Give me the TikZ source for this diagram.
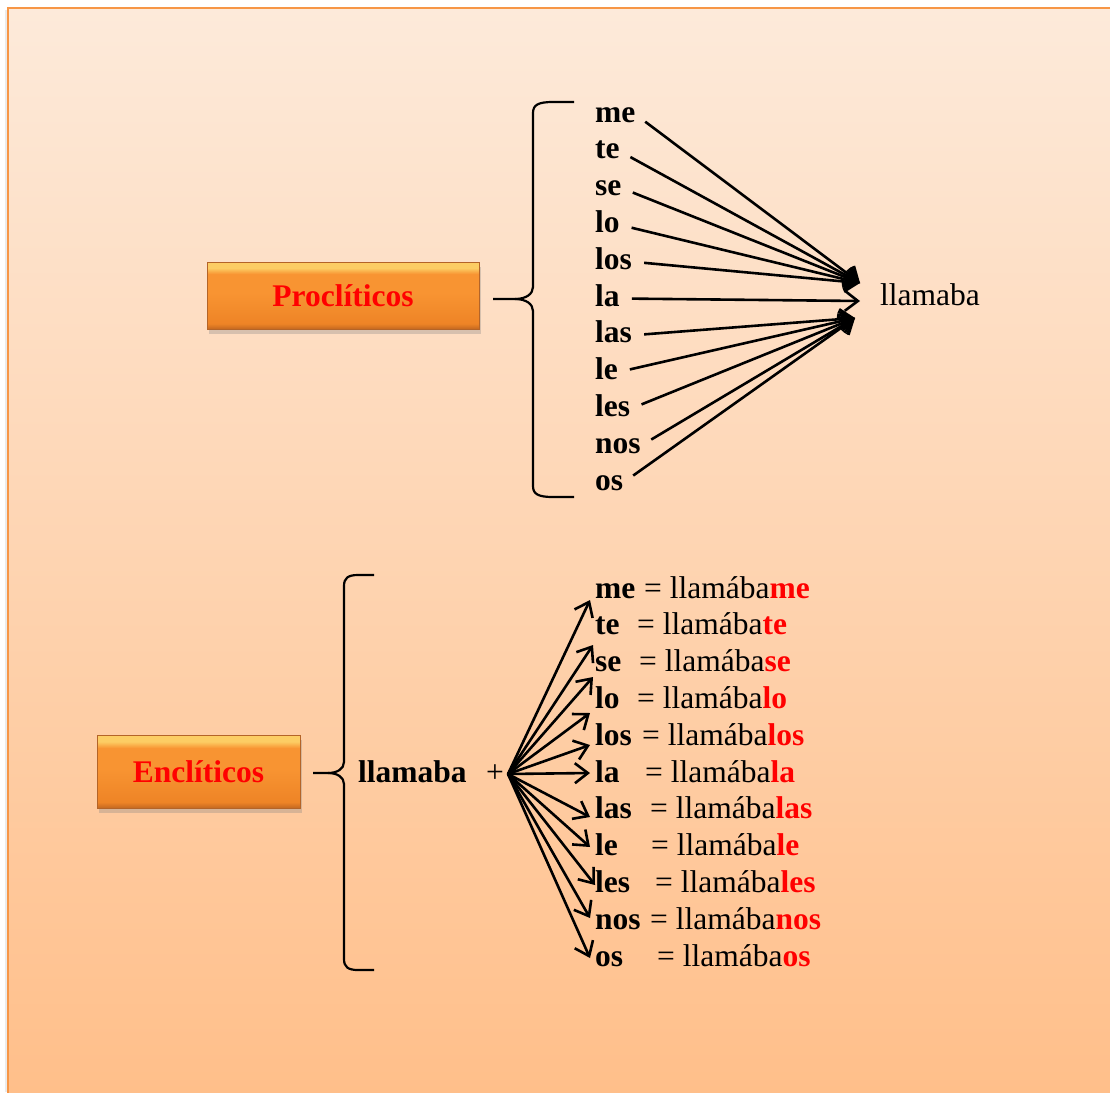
\documentclass[tikz,border=0pt]{standalone}
\usepackage{fontspec}
\setmainfont{Liberation Serif}
\usetikzlibrary{arrows.meta,shadows}
\definecolor{bgtop}{RGB}{253,234,218}
\definecolor{bgbot}{RGB}{255,191,138}
\definecolor{framecol}{RGB}{247,150,70}
\definecolor{boxtop}{RGB}{252,205,100}
\definecolor{boxmid}{RGB}{248,148,50}
\definecolor{boxmidb}{RGB}{238,132,38}
\definecolor{boxbot}{RGB}{196,104,32}
\definecolor{boxedge}{RGB}{180,100,40}
\definecolor{redtxt}{RGB}{255,0,0}
\pgfdeclareverticalshading{boxshade}{100bp}{color(0bp)=(boxbot); color(25bp)=(boxbot); color(29bp)=(boxmidb); color(52bp)=(boxmid); color(66bp)=(boxmid); color(70.5bp)=(boxtop); color(75bp)=(boxtop); color(100bp)=(boxtop)}
\begin{document}
\begin{tikzpicture}[x=1pt,y=-1pt,
  font=\fontsize{31.5}{37}\selectfont,
  titlebox/.style={draw=boxedge, line width=1, shading=boxshade,
     text=redtxt, font=\fontsize{31.5}{37}\selectfont\bfseries, inner sep=0,
     drop shadow={opacity=0.3, shadow xshift=2pt, shadow yshift=-5pt}},
  word/.style={anchor=base west, inner sep=0, text height=22pt, text depth=7pt},
  arr/.style={line width=2.6, -{Straight Barb[length=13pt,width=20pt,line width=2.6]}},
  brace/.style={line width=2.2, line join=round}]
\useasboundingbox (0,0) rectangle (1110,1092);
\fill[white] (0,0) rectangle (1110,1092);
\fill[black!8] (5,10) rectangle (8,1092);
\shade[top color=bgtop, bottom color=bgbot] (8,8) rectangle (1110,1092);
\draw[framecol, line width=2.5] (8,1100) -- (8,8) -- (1120,8);

% ---------- Proclíticos ----------
\node[titlebox, minimum width=272, minimum height=67] (proc) at (343,295.5) {Proclíticos};
\draw[brace] (574,102) -- (553,102) .. controls (538,102) and (533,105) .. (533,113) -- (533,287)
  .. controls (533,294) and (526,299) .. (515,299) -- (493,299);
\draw[brace] (515,299) .. controls (526,299) and (533,304) .. (533,311) -- (533,486)
  .. controls (533,494) and (538,497) .. (553,497) -- (574,497);

\foreach \w [count=\i] in {me,te,se,lo,los,la,las,le,les,nos,os}{
  \node[word] (p\i) at (595,{122+36.8*(\i-1)}) {\textbf{\w}};
}
\node[anchor=base west, inner sep=0] (llam) at (880,305) {llamaba};
\coordinate (tA) at (860,283);
\coordinate (tB) at (860,301);
\coordinate (tC) at (855,318);
\foreach \i in {1,...,5}{ \draw[arr, shorten <=12pt] (p\i.east) -- (tA); }
\draw[arr, shorten <=12pt] (p6.east) -- (tB);
\foreach \i in {7,...,11}{ \draw[arr, shorten <=12pt] (p\i.east) -- (tC); }

% ---------- Enclíticos ----------
\node[titlebox, minimum width=203, minimum height=73] (encl) at (198.5,771.5) {Enclíticos};
\draw[brace] (374,575) -- (358,575) .. controls (348,575) and (344,578) .. (344,586) -- (344,762)
  .. controls (344,769) and (337,773) .. (328,773) -- (313,773);
\draw[brace] (328,773) .. controls (337,773) and (344,777) .. (344,784) -- (344,959)
  .. controls (344,967) and (348,970) .. (358,970) -- (374,970);

\node[anchor=base west, inner sep=0] (verb) at (358,782) {\textbf{llamaba}};
\node[anchor=base west, inner sep=0] (plus) at (486,782) {+};
\coordinate (o) at (508,774);

\foreach \w/\xe/\tx/\ty [count=\i] in {
  me/644/590/600, te/637/593/645, se/639/593/677, lo/637/590/713, los/642/590/745,
  la/645/590/773, las/650/590/817, le/651/590/847, les/655/595/885, nos/650/590/918, os/657/590/958}{
  \node[word] (e\i) at (595,{598+36.8*(\i-1)}) {\textbf{\w}};
  \node[word] (r\i) at (\xe,{598+36.8*(\i-1)}) {= llamába\textcolor{redtxt}{\textbf{\w}}};
  \coordinate (h\i) at (\tx,\ty);
  \draw[arr] (o) -- (h\i);
}
\end{tikzpicture}
\end{document}
